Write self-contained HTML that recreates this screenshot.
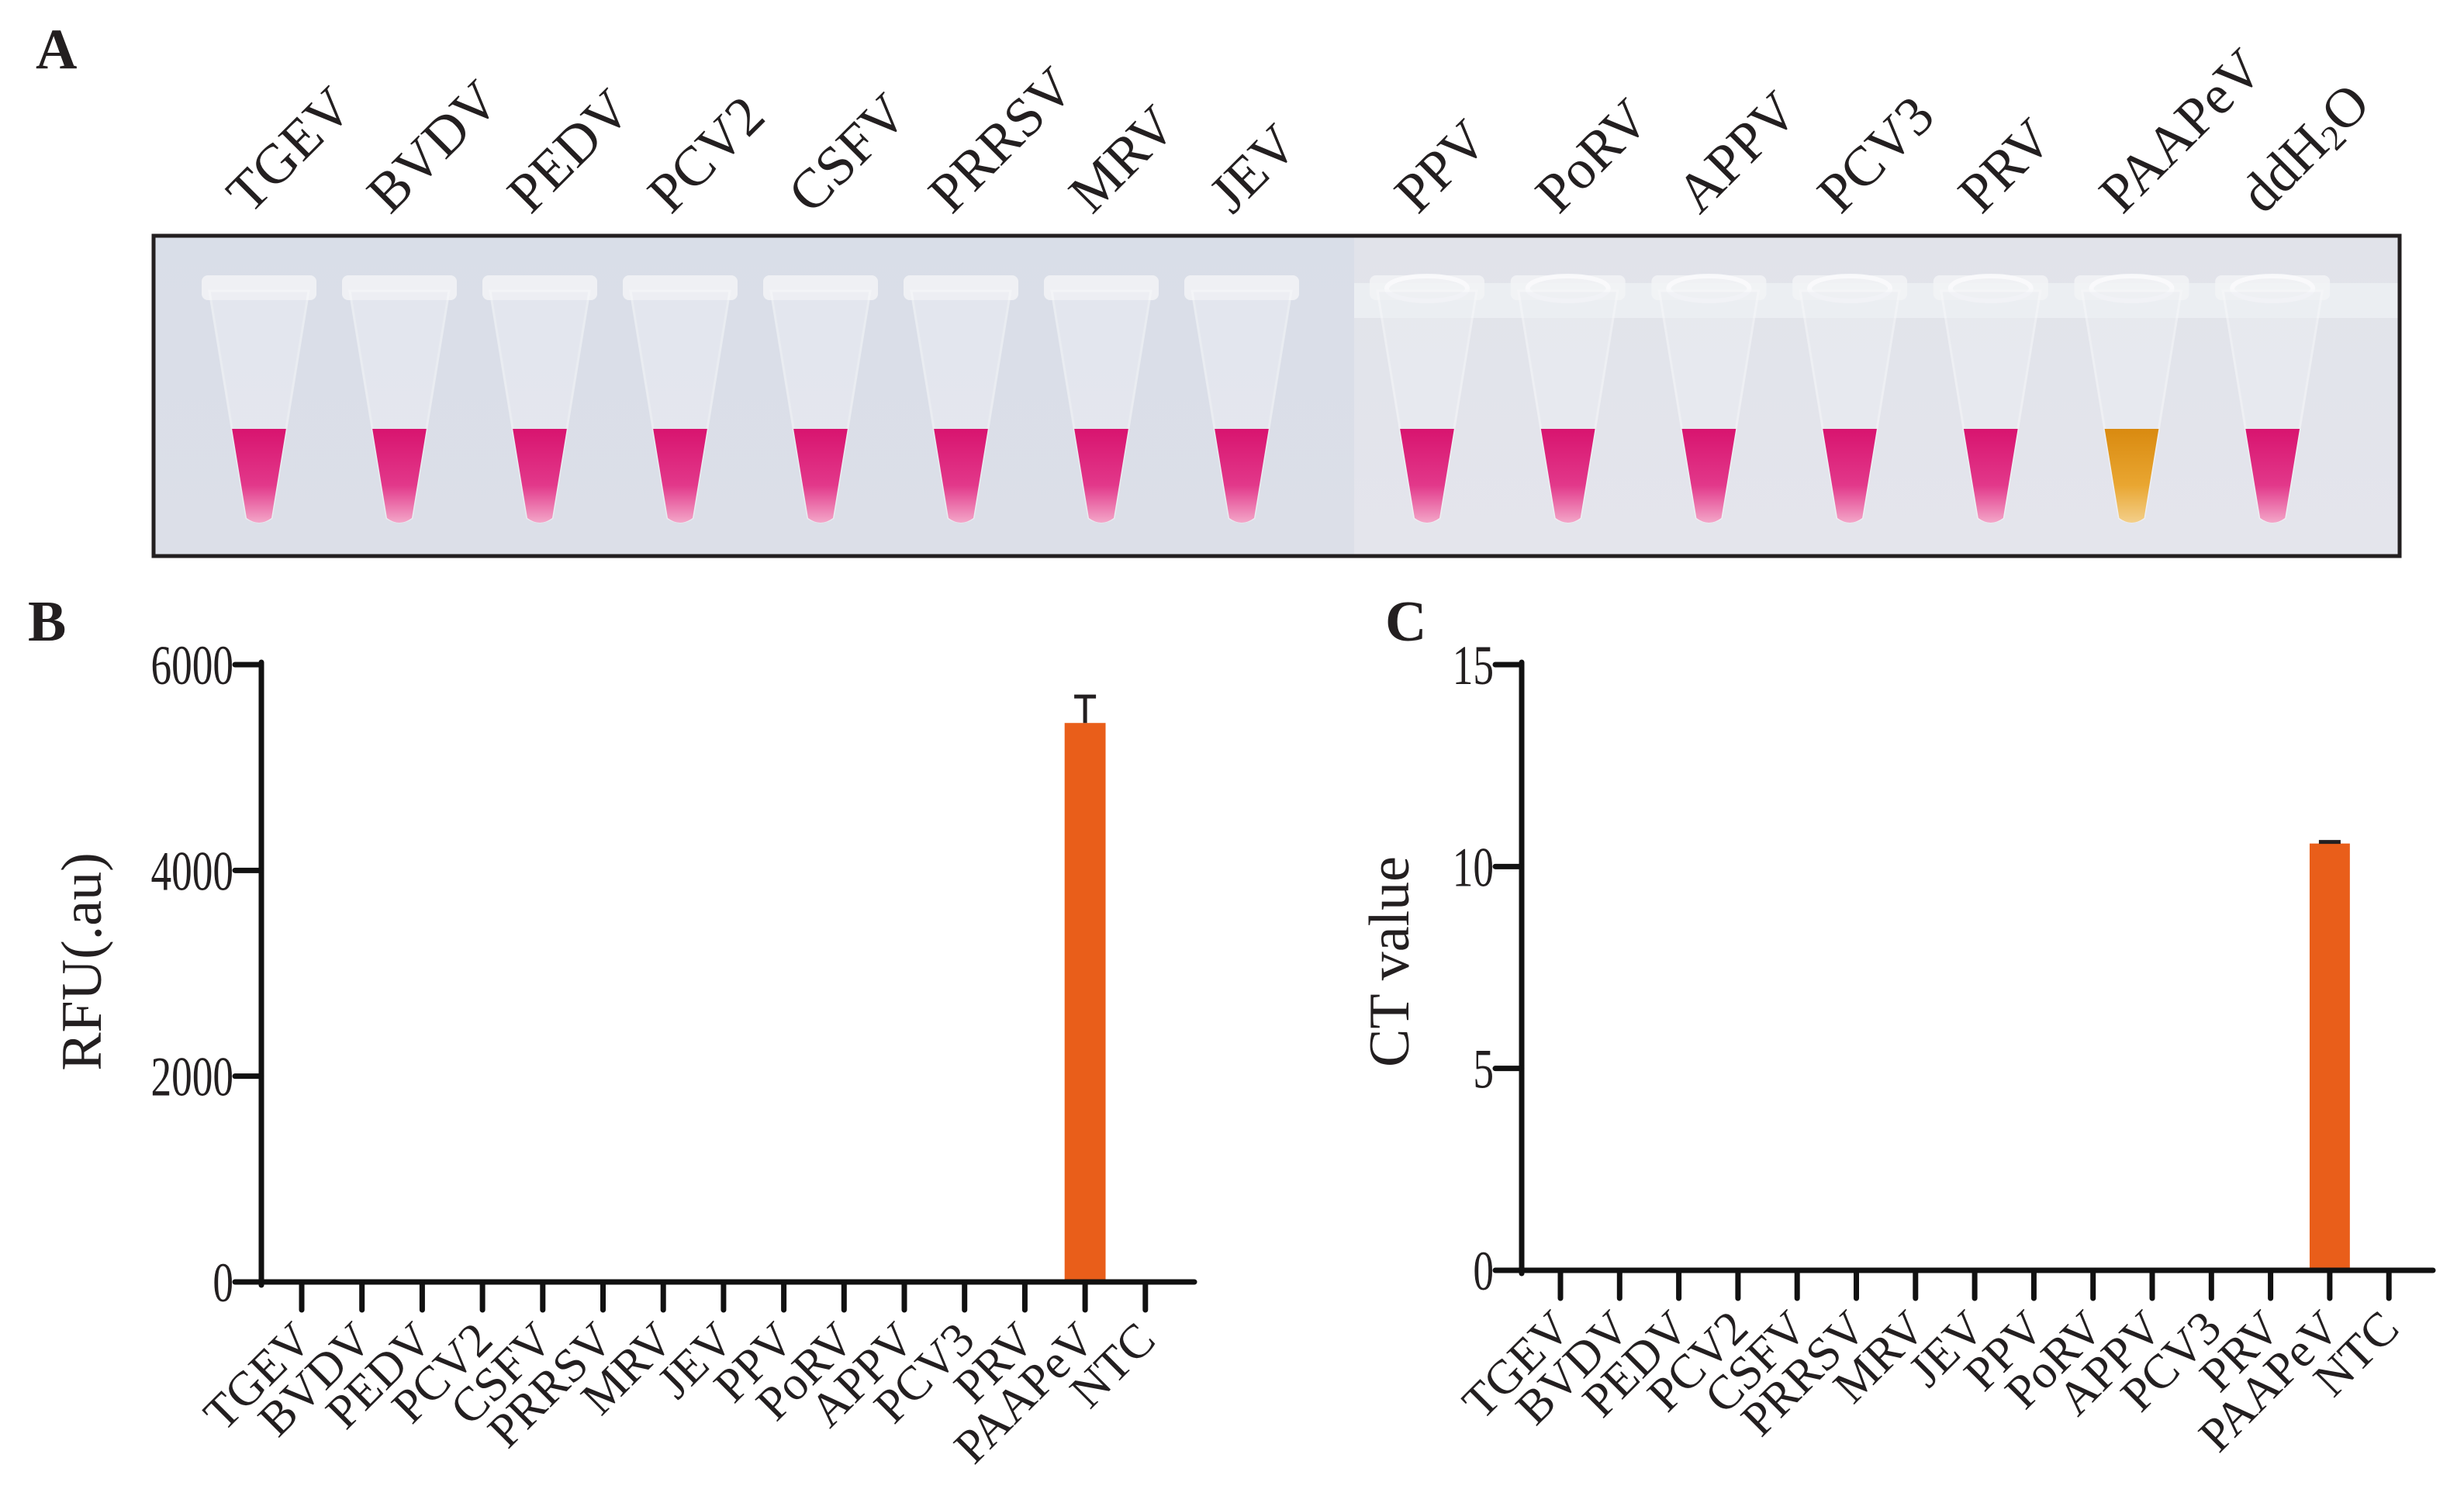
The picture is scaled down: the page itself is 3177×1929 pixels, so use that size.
<!DOCTYPE html>
<html><head><meta charset="utf-8"><style>
html,body{margin:0;padding:0;background:#fff;}
svg{display:block;}
text{font-family:"Liberation Serif","Times New Roman",serif;fill:#231f20;}
</style></head><body>
<svg id="fig" xmlns="http://www.w3.org/2000/svg" width="3177" height="1929" viewBox="0 0 3177 1929">
<defs>
<linearGradient id="bgL" x1="0" y1="0" x2="0" y2="1"><stop offset="0" stop-color="#d9dee8"/><stop offset="1" stop-color="#dcdfe8"/></linearGradient>
<linearGradient id="bgR" x1="0" y1="0" x2="0" y2="1"><stop offset="0" stop-color="#e1e3ea"/><stop offset="1" stop-color="#e4e5ec"/></linearGradient>
<linearGradient id="pink" x1="0" y1="0" x2="0" y2="1"><stop offset="0" stop-color="#d8146f"/><stop offset="0.6" stop-color="#e2388a"/><stop offset="1" stop-color="#f3a6c8"/></linearGradient>
<linearGradient id="orange" x1="0" y1="0" x2="0" y2="1"><stop offset="0" stop-color="#d98a10"/><stop offset="0.6" stop-color="#e9a631"/><stop offset="1" stop-color="#f3cf8a"/></linearGradient>
</defs>
<text x="46" y="88" font-size="74" font-weight="bold">A</text>
<text x="36" y="826" font-size="74" font-weight="bold">B</text>
<text x="1786" y="826" font-size="74" font-weight="bold">C</text>
<g id="photo">
<rect x="198" y="304" width="1548" height="413" fill="url(#bgL)"/>
<rect x="1746" y="304" width="1348" height="413" fill="url(#bgR)"/>
<rect x="1746" y="365" width="1348" height="45" fill="#eef0f4" opacity="0.8"/>
<rect x="198" y="304" width="2896" height="413" fill="none" stroke="#231f20" stroke-width="5"/>
</g>
<g id="tubes"></g>
<g id="tubeLabels"></g>
<g id="chartB"></g>
<g id="chartC"></g>
</svg>
<script>
const NS='http://www.w3.org/2000/svg';
// Panel A data
const tubeNames=['TGEV','BVDV','PEDV','PCV2','CSFV','PRRSV','MRV','JEV','PPV','PoRV','APPV','PCV3','PRV','PAAPeV','ddH2O'];
const tubeResult=['neg','neg','neg','neg','neg','neg','neg','neg','neg','neg','neg','neg','neg','pos','neg'];
// Panel B data
const categories=['TGEV','BVDV','PEDV','PCV2','CSFV','PRRSV','MRV','JEV','PPV','PoRV','APPV','PCV3','PRV','PAAPeV','NTC'];
const rfuValues=[0,0,0,0,0,0,0,0,0,0,0,0,0,5433,0];
const rfuErrors=[0,0,0,0,0,0,0,0,0,0,0,0,0,257,0];
const rfuTicks=[0,2000,4000,6000];
// Panel C data
const ctValues=[0,0,0,0,0,0,0,0,0,0,0,0,0,10.57,0];
const ctErrors=[0,0,0,0,0,0,0,0,0,0,0,0,0,0.04,0];
const ctTicks=[0,5,10,15];

function mk(tag,attrs,parent){const e=document.createElementNS(NS,tag);for(const k in attrs)e.setAttribute(k,attrs[k]);parent.appendChild(e);return e;}

(function(){
  const g=document.getElementById('tubes'), lg=document.getElementById('tubeLabels');
  tubeNames.forEach((name,i)=>{
    const cx = i<8 ? 334+i*181 : 1840+(i-8)*181.7;
    const t=mk('g',{},g);
    
    
    const top=375, bot=668, hw0=64, hw1=16;
    mk('rect',{x:cx-74,y:355,width:148,height:32,rx:8,fill:'#f2f3f6',opacity:'0.85'},t);
    if(i>=8) mk('ellipse',{cx:cx,cy:372,rx:52,ry:16,fill:'none',stroke:'#fafafc','stroke-width':6,opacity:'0.9'},t);
    mk('path',{d:`M${cx-hw0} ${top} L${cx+hw0} ${top} L${cx+hw1} ${bot} Q${cx} ${bot+10} ${cx-hw1} ${bot} Z`,fill:'#eceef3',opacity:'0.55',stroke:'#f7f8fa','stroke-width':3},t);
    const ly=553, f=(ly-top)/(bot-top), hwl=hw0-(hw0-hw1)*f;
    mk('path',{d:`M${cx-hwl} ${ly} L${cx+hwl} ${ly} L${cx+hw1} ${bot} Q${cx} ${bot+12} ${cx-hw1} ${bot} Z`,fill:tubeResult[i]==='pos'?'url(#orange)':'url(#pink)'},t);
    const lx=cx-12, lyy=278;
    const tx=mk('text',{x:lx,y:lyy,'font-size':72,transform:`rotate(-45 ${lx} ${lyy})`},lg);
    
    
    if(name==='ddH2O'){tx.appendChild(document.createTextNode('ddH'));const s=mk('tspan',{'font-size':46,dy:8},tx);s.textContent='2';const o=mk('tspan',{'font-size':72,dy:-8},tx);o.textContent='O';}
    else tx.textContent=name;
  });
})();

function barChart(gid,cfg,values,errors,ticks,title,prefix){
  const g=document.getElementById(gid);
  const {ax,ayTop,ay0,axEnd,x0,step,vmax}=cfg;
  const yS=v=>ay0-(v/vmax)*(ay0-ayTop);
  const xS=i=>x0+i*step;
  const bw=step*0.68;
  values.forEach((v,i)=>{
    if(v<=0)return;
    const r=mk('rect',{x:xS(i)-bw/2,y:yS(v),width:bw,height:ay0-yS(v),fill:'#e95e1a'},g);
    
    
    const e=errors[i];
    if(e>0){
      const eb=mk('path',{d:`M${xS(i)} ${yS(v)} V${yS(v+e)} M${xS(i)-14} ${yS(v+e)} H${xS(i)+14}`,stroke:'#231f20','stroke-width':5,fill:'none'},g);
      
      
    }
  });
  const yax=mk('path',{d:`M${ax} ${ayTop-3} V${ay0+4}`,stroke:'#111','stroke-width':7,fill:'none','stroke-linecap':'round'},g);
  
  
  const xax=mk('path',{d:`M${ax} ${ay0} H${axEnd}`,stroke:'#111','stroke-width':7,fill:'none','stroke-linecap':'round'},g);
  
  
  ticks.forEach(t=>{
    const y=yS(t);
    const tk=mk('path',{d:`M${ax-34} ${y} H${ax}`,stroke:'#111','stroke-width':7,'stroke-linecap':'round'},g);
    
    
    const lx=ax-36, ly=y+25;
    const tl=mk('text',{x:0,y:0,'font-size':72,'text-anchor':'end',transform:`translate(${lx} ${ly}) scale(0.74 1)`},g);
    
    
    tl.textContent=t;
  });
  categories.forEach((c,i)=>{
    const x=xS(i);
    const tk=mk('path',{d:`M${x} ${ay0} V${ay0+36}`,stroke:'#111','stroke-width':7,'stroke-linecap':'round'},g);
    
    
    const lx=x+16, ly=ay0+78;
    const tl=mk('text',{x:lx,y:ly,'font-size':62,'text-anchor':'end',transform:`rotate(-45 ${lx} ${ly})`},g);
    
    
    tl.textContent=c;
  });
  const tt=mk('text',{x:cfg.titleX,y:cfg.titleY,'font-size':74,'text-anchor':'middle',transform:`rotate(-90 ${cfg.titleX} ${cfg.titleY})`},g);
  
  
  tt.textContent=title;
}
barChart('chartB',{ax:337,ayTop:857,ay0:1653,axEnd:1540,x0:389,step:77.7,vmax:6000,titleX:130,titleY:1240},rfuValues,rfuErrors,rfuTicks,'RFU(.au)','rfu');
barChart('chartC',{ax:1962,ayTop:857,ay0:1638,axEnd:3137,x0:2012,step:76.3,vmax:15,titleX:1816,titleY:1240},ctValues,ctErrors,ctTicks,'CT value','ct');
</script>
</body></html>
